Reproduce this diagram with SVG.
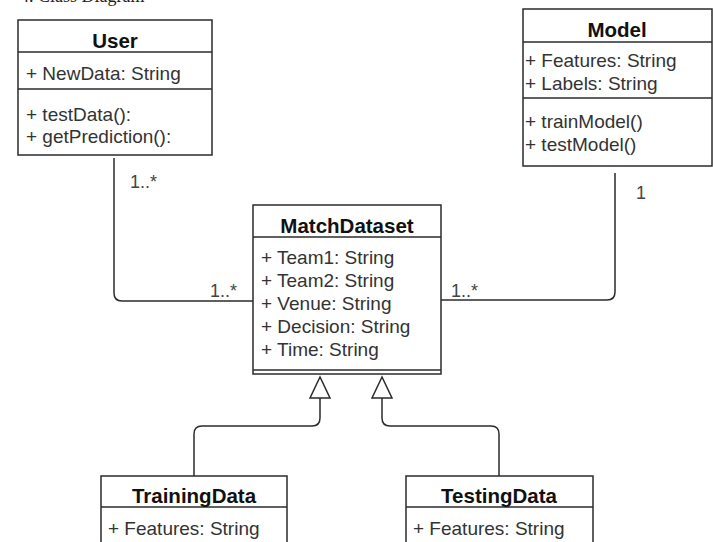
<svg xmlns="http://www.w3.org/2000/svg" width="713" height="542" viewBox="0 0 713 542">
  <style>
    .box { fill: #ffffff; stroke: #2b2b2b; stroke-width: 1.5; }
    .sep { stroke: #2b2b2b; stroke-width: 1.5; }
    .title { font-family: "Liberation Sans", Arial, sans-serif; font-size: 20.5px; font-weight: bold; fill: #111111; text-anchor: middle; }
    .member { font-family: "Liberation Sans", Arial, sans-serif; font-size: 19px; fill: #333333; }
    .mult { font-family: "Liberation Sans", Arial, sans-serif; font-size: 18px; fill: #444444; }
    .wire { fill: none; stroke: #2b2b2b; stroke-width: 1.5; }
    .head { fill: #ffffff; stroke: #2b2b2b; stroke-width: 1.5; stroke-linejoin: miter; }
    .caption { font-family: "Liberation Serif", "Times New Roman", serif; font-size: 18px; fill: #222222; }
  </style>

  <rect width="713" height="542" fill="#ffffff"/>

  <!-- section heading, clipped at the top edge -->
  <text class="caption" x="20" y="1.5">4. Class Diagram</text>

  <!-- connectors -->
  <g id="connectors">
    <!-- User to MatchDataset association -->
    <path class="wire" d="M114 158 V293 Q114 301 122 301 H253"/>
    <!-- Model to MatchDataset association -->
    <path class="wire" d="M615 173 V292 Q615 300 607 300 H441"/>
    <!-- TrainingData generalization -->
    <path class="wire" d="M194 476 V434 Q194 426 202 426 H312 Q320 426 320 418 V398"/>
    <polygon class="head" points="320,377 310,398 330,398"/>
    <!-- TestingData generalization -->
    <path class="wire" d="M499 476 V434 Q499 426 491 426 H390 Q382 426 382 418 V398"/>
    <polygon class="head" points="382,377 372,398 392,398"/>
    <!-- multiplicities -->
    <text class="mult" x="130" y="188">1..*</text>
    <text class="mult" x="210" y="297">1..*</text>
    <text class="mult" x="451" y="297">1..*</text>
    <text class="mult" x="636" y="199">1</text>
  </g>

  <!-- User class -->
  <g id="user">
    <rect class="box" x="18" y="20" width="194" height="135"/>
    <line class="sep" x1="18" y1="52" x2="212" y2="52"/>
    <line class="sep" x1="18" y1="89" x2="212" y2="89"/>
    <text class="title" x="115" y="48">User</text>
    <text class="member" x="26" y="80">+ NewData: String</text>
    <text class="member" x="26" y="121">+ testData():</text>
    <text class="member" x="26" y="143">+ getPrediction():</text>
  </g>

  <!-- Model class -->
  <g id="model">
    <rect class="box" x="523" y="9" width="189" height="157"/>
    <line class="sep" x1="523" y1="42" x2="712" y2="42"/>
    <line class="sep" x1="523" y1="98" x2="712" y2="98"/>
    <text class="title" x="617" y="37">Model</text>
    <text class="member" x="525" y="67">+ Features: String</text>
    <text class="member" x="525" y="90">+ Labels: String</text>
    <text class="member" x="525" y="128">+ trainModel()</text>
    <text class="member" x="525" y="151">+ testModel()</text>
  </g>

  <!-- MatchDataset class -->
  <g id="matchdataset">
    <rect class="box" x="253" y="205" width="188" height="169"/>
    <line class="sep" x1="253" y1="237" x2="441" y2="237"/>
    <line class="sep" x1="253" y1="370" x2="441" y2="370"/>
    <text class="title" x="347" y="233">MatchDataset</text>
    <text class="member" x="261" y="264">+ Team1: String</text>
    <text class="member" x="261" y="287">+ Team2: String</text>
    <text class="member" x="261" y="310">+ Venue: String</text>
    <text class="member" x="261" y="333">+ Decision: String</text>
    <text class="member" x="261" y="356">+ Time: String</text>
  </g>

  <!-- TrainingData class -->
  <g id="trainingdata">
    <rect class="box" x="101" y="476" width="186" height="70"/>
    <line class="sep" x1="101" y1="507" x2="287" y2="507"/>
    <text class="title" x="194" y="503">TrainingData</text>
    <text class="member" x="108" y="535">+ Features: String</text>
  </g>

  <!-- TestingData class -->
  <g id="testingdata">
    <rect class="box" x="406" y="476" width="187" height="70"/>
    <line class="sep" x1="406" y1="507" x2="593" y2="507"/>
    <text class="title" x="499" y="503">TestingData</text>
    <text class="member" x="413" y="535">+ Features: String</text>
  </g>
</svg>
